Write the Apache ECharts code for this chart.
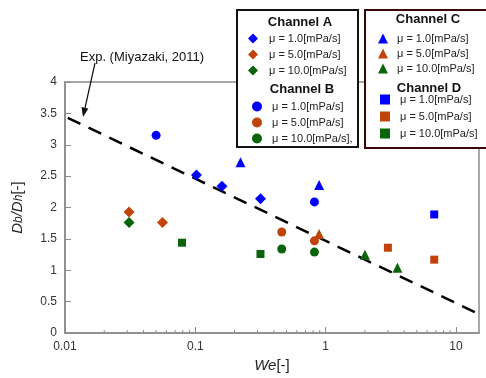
<!DOCTYPE html>
<html>
<head>
<meta charset="utf-8">
<script src="https://cdn.jsdelivr.net/npm/echarts@6/dist/echarts.min.js"></script>
<style>
  html, body { margin: 0; padding: 0; background: #fff; }
  #chart1 { width: 486px; height: 378px; }
</style>
</head>
<body>
<div id="chart1"></div>
<script>
// data: [We, Db/Dh]
const chA_mu1 = [[0.102, 2.52], [0.16, 2.34], [0.316, 2.14]]
const chA_mu5 = [[0.031, 1.93], [0.056, 1.76]]
const chA_mu10 = [[0.031, 1.76]]
const chB_mu1 = [[0.05, 3.15], [0.82, 2.09]]
const chB_mu5 = [[0.46, 1.61], [0.82, 1.47]]
const chB_mu10 = [[0.46, 1.34], [0.82, 1.29]]
const chC_mu1 = [[0.222, 2.72], [0.89, 2.36]]
const chC_mu5 = [[0.89, 1.58]]
const chC_mu10 = [[2.0, 1.25], [3.55, 1.04]]
const chD_mu1 = [[6.8, 1.89]]
const chD_mu5 = [[3.0, 1.36], [6.8, 1.17]]
const chD_mu10 = [[0.079, 1.44], [0.316, 1.26]]
// Miyazaki (2011) correlation, end points of the dashed line
const expLine = [[0.0105, 3.43], [14.1, 0.33]]
// log axis minor ticks
const minorTicks = [0.02, 0.03, 0.04, 0.05, 0.06, 0.07, 0.08, 0.09,
    0.2, 0.3, 0.4, 0.5, 0.6, 0.7, 0.8, 0.9,
    2, 3, 4, 5, 6, 7, 8, 9]

const legendText = {
    A1: 'μ = 1.0[mPa/s]', A5: 'μ = 5.0[mPa/s]', A10: 'μ = 10.0[mPa/s]',
    B1: 'μ = 1.0[mPa/s]', B5: 'μ = 5.0[mPa/s]', B10: 'μ = 10.0[mPa/s],',
    C1: 'μ = 1.0[mPa/s]', C5: 'μ = 5.0[mPa/s]', C10: 'μ = 10.0[mPa/s]',
    D1: 'μ = 1.0[mPa/s]', D5: 'μ = 5.0[mPa/s]', D10: 'μ = 10.0[mPa/s]'
}

const BLUE = '#0000ff'
const ORANGE = '#c0440a'
const GREEN = '#0a640a'
const AXIS = '#8a8a8a'
const FONT = 'Liberation Sans, Arial, sans-serif'

function pts (name, data, symbol, size, color) {
    return {
        name: name,
        type: 'scatter',
        data: data,
        symbol: symbol,
        symbolSize: size,
        itemStyle: { color: color, opacity: 1 },
        z: 3
    }
}

function legendBlock (names, left, top, pad, gap) {
    return {
        data: names,
        orient: 'vertical',
        left: left,
        top: top,
        itemWidth: 10,
        itemHeight: 10,
        itemGap: gap,
        padding: 0,
        selectedMode: false,
        z: 6,
        formatter: function (name) { return legendText[name] },
        textStyle: { fontSize: 11, color: '#222', fontFamily: FONT, padding: [0, 0, 0, pad] }
    }
}

const chart1 = echarts.init(document.getElementById('chart1'))
const option = {
    animation: false,
    grid: {
        left: 65, right: 7, top: 82, bottom: 42,
        show: true, borderColor: AXIS, borderWidth: 1.5, backgroundColor: 'transparent'
    },
    xAxis: {
        type: 'log',
        logBase: 10,
        min: 0.01,
        max: 15,
        name: '{i|We}[-]',
        nameLocation: 'middle',
        nameGap: 22,
        nameTextStyle: {
            fontSize: 15, color: '#222', fontFamily: FONT,
            rich: { i: { fontSize: 15, fontStyle: 'italic', color: '#222', fontFamily: FONT } }
        },
        axisLine: { lineStyle: { color: AXIS, width: 1.5 } },
        axisTick: { inside: true, length: 6, lineStyle: { color: AXIS } },
        axisLabel: { fontSize: 12, color: '#333', fontFamily: FONT, margin: 8, showMaxLabel: false },
        splitLine: { show: false }
    },
    yAxis: {
        type: 'value',
        min: 0,
        max: 4,
        interval: 0.5,
        name: '{i|D}{s|b}{i|/D}{s|h}[-]',
        nameLocation: 'middle',
        nameGap: 40,
        nameTextStyle: {
            fontSize: 15, color: '#222', fontFamily: FONT,
            rich: {
                i: { fontSize: 15, fontStyle: 'italic', color: '#222', fontFamily: FONT },
                s: { fontSize: 12, fontStyle: 'italic', color: '#222', fontFamily: FONT, verticalAlign: 'bottom' }
            }
        },
        axisLine: { show: true, lineStyle: { color: AXIS, width: 1.5 } },
        axisTick: { show: true, inside: true, length: 6, lineStyle: { color: AXIS } },
        axisLabel: { fontSize: 12, color: '#333', fontFamily: FONT, margin: 8 },
        splitLine: { show: false }
    },
    legend: [
        legendBlock(['A1', 'A5', 'A10'], 248, 33, 6, 5),
        legendBlock(['B1', 'B5', 'B10'], 252, 101, 5, 5),
        legendBlock(['C1', 'C5', 'C10'], 378, 33, 4, 4),
        legendBlock(['D1', 'D5', 'D10'], 380, 94, 5, 6)
    ],
    graphic: [
        { type: 'rect', shape: { x: 237, y: 10, width: 121, height: 137 }, style: { fill: '#fff', stroke: '#111', lineWidth: 2 }, z: 5 },
        { type: 'rect', shape: { x: 365, y: 10, width: 130, height: 138 }, style: { fill: '#fff', stroke: '#3a0505', lineWidth: 2 }, z: 5 },
        { type: 'text', x: 300, y: 22, style: { text: 'Channel A', fill: '#111', font: 'bold 13px Liberation Sans, Arial', align: 'center', verticalAlign: 'middle' }, z: 6 },
        { type: 'text', x: 302, y: 89, style: { text: 'Channel B', fill: '#111', font: 'bold 13px Liberation Sans, Arial', align: 'center', verticalAlign: 'middle' }, z: 6 },
        { type: 'text', x: 428, y: 19, style: { text: 'Channel C', fill: '#111', font: 'bold 13px Liberation Sans, Arial', align: 'center', verticalAlign: 'middle' }, z: 6 },
        { type: 'text', x: 429, y: 88, style: { text: 'Channel D', fill: '#111', font: 'bold 13px Liberation Sans, Arial', align: 'center', verticalAlign: 'middle' }, z: 6 },
        // annotation
        { type: 'text', x: 80, y: 57, style: { text: 'Exp. (Miyazaki, 2011)', font: '13px Liberation Sans, Arial', fill: '#111', verticalAlign: 'middle' }, z: 6 },
        { type: 'line', shape: { x1: 95, y1: 63, x2: 85, y2: 108 }, style: { stroke: '#111', lineWidth: 1.2 }, z: 6 },
        { type: 'polygon', shape: { points: [[83, 117], [88.4, 108.5], [81.5, 107]] }, style: { fill: '#111' }, z: 6 }
    ],
    series: [
        pts('A1', chA_mu1, 'diamond', 11, BLUE),
        pts('A5', chA_mu5, 'diamond', 11, ORANGE),
        pts('A10', chA_mu10, 'diamond', 11, GREEN),
        pts('B1', chB_mu1, 'circle', 9, BLUE),
        pts('B5', chB_mu5, 'circle', 9, ORANGE),
        pts('B10', chB_mu10, 'circle', 9, GREEN),
        pts('C1', chC_mu1, 'triangle', 10, BLUE),
        pts('C5', chC_mu5, 'triangle', 10, ORANGE),
        pts('C10', chC_mu10, 'triangle', 10, GREEN),
        pts('D1', chD_mu1, 'rect', 8, BLUE),
        pts('D5', chD_mu5, 'rect', 8, ORANGE),
        pts('D10', chD_mu10, 'rect', 8, GREEN),
        {
            name: 'Miyazaki',
            type: 'line',
            data: expLine,
            symbol: 'none',
            lineStyle: { color: '#000', width: 2.5, type: [14, 9] },
            z: 2
        },
        {
            name: 'minorTicks',
            type: 'custom',
            data: minorTicks.map(function (v) { return [v, 0] }),
            silent: true,
            renderItem: function (params, api) {
                const p = api.coord([api.value(0), api.value(1)])
                return {
                    type: 'line',
                    shape: { x1: p[0], y1: p[1], x2: p[0], y2: p[1] - 3 },
                    style: { stroke: AXIS, lineWidth: 1 }
                }
            },
            z: 1
        }
    ]
}
chart1.setOption(option)
</script>
</body>
</html>
